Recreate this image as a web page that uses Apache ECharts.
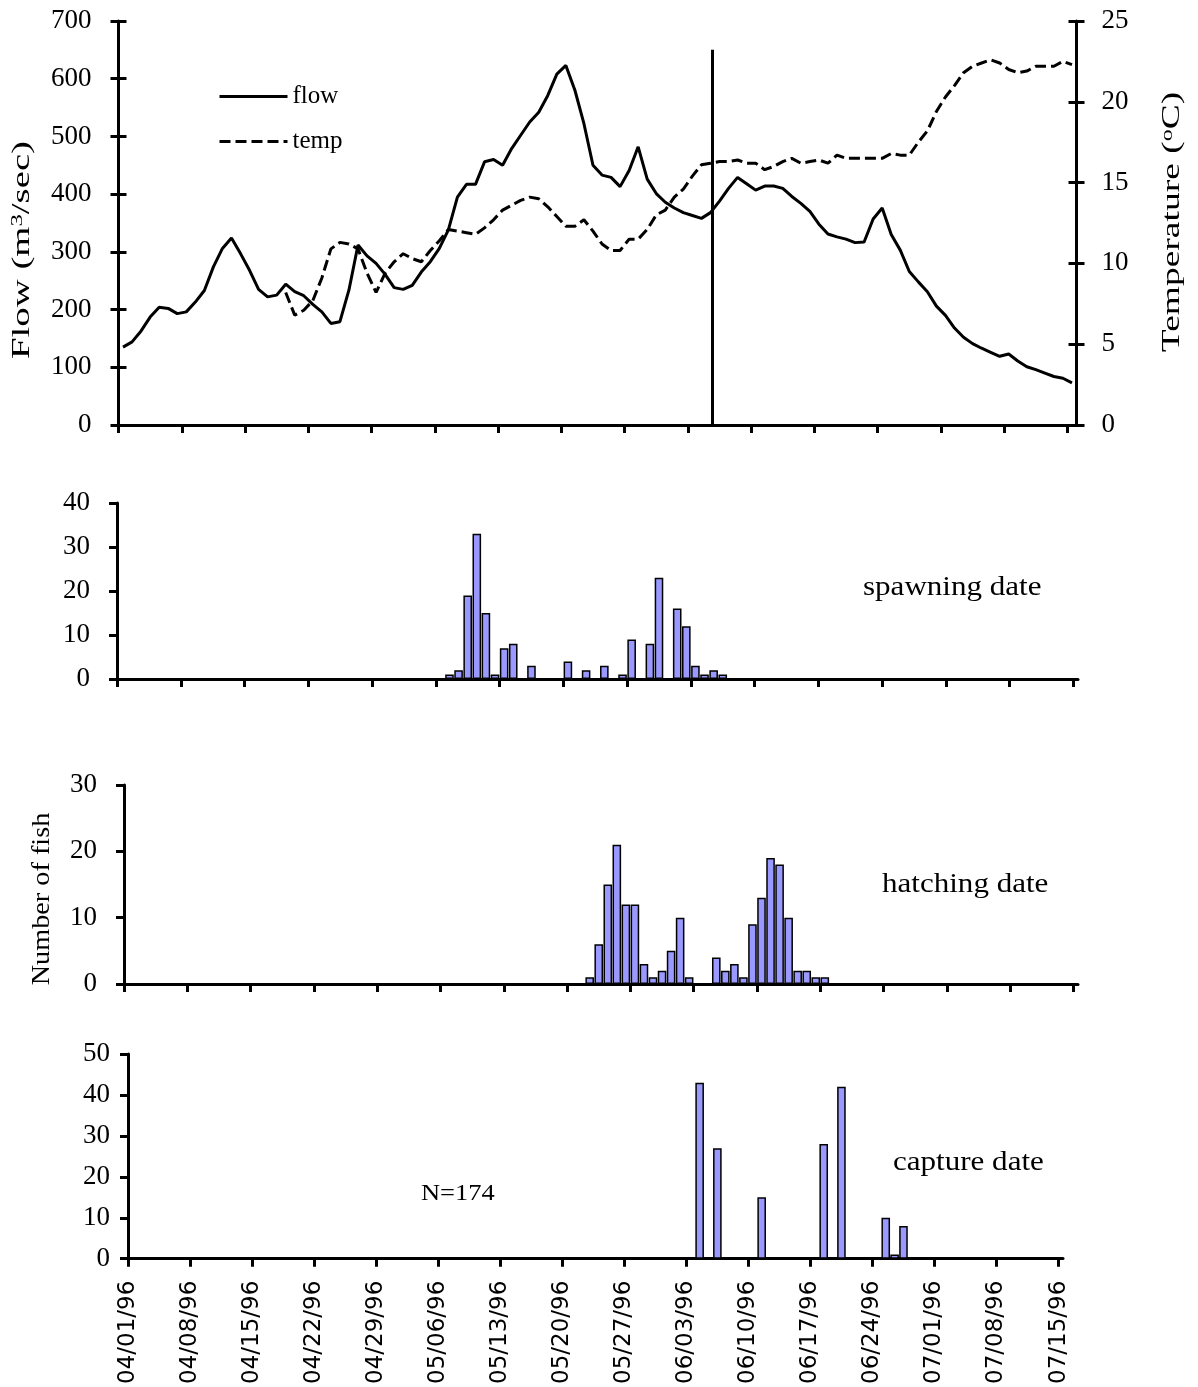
<!DOCTYPE html>
<html>
<head>
<meta charset="utf-8">
<title>Flow, temperature and fish dates 1996</title>
<script src="https://cdn.jsdelivr.net/npm/echarts@6/dist/echarts.min.js"></script>
<style>
  html, body { margin: 0; padding: 0; background: #fff; }
  #chart { width: 1198px; height: 1387px; }
</style>
</head>
<body>
<div id="chart"></div>
<script>
// x axis: days since 04/01/96, one tick per week
const weekLabels = ['04/01/96', '04/08/96', '04/15/96', '04/22/96', '04/29/96', '05/06/96', '05/13/96', '05/20/96',
  '05/27/96', '06/03/96', '06/10/96', '06/17/96', '06/24/96', '07/01/96', '07/08/96', '07/15/96']

// daily flow (m3/sec), from 04/01
const flow = [135, 144, 163, 187, 204, 202, 193, 196, 213, 233, 274, 306, 324, 297, 268, 235, 222, 225, 244, 231,
  224, 209, 196, 176, 179, 234, 312, 293, 280, 261, 238, 235, 242, 265, 283, 306, 338, 395, 417, 417,
  456, 460, 450, 479, 502, 525, 542, 571, 608, 623, 580, 522, 450, 433, 429, 413, 441, 482, 426, 401,
  386, 376, 368, 363, 358, 368, 388, 410, 429, 418, 407, 414, 414, 410, 396, 384, 370, 348, 331, 326,
  322, 316, 317, 357, 376, 330, 303, 266, 248, 231, 206, 190, 168, 152, 141, 133, 126, 119, 123, 111,
  101, 96, 90, 84, 81, 73]

// daily water temperature (oC), no record before 04/19
const temp = [null, null, null, null, null, null, null, null, null, null, null, null, null, null, null, null, null, null,
  8.2, 6.8, 7.1, 7.7, 9.1, 10.9, 11.3, 11.2, 10.9, 9.4, 8.2, 9.4, 10.1, 10.6, 10.3, 10.1, 10.8, 11.4, 12.1, 12.0,
  11.9, 11.8, 12.2, 12.7, 13.3, 13.6, 13.9, 14.1, 14.0, 13.5, 12.9, 12.3, 12.3, 12.7, 12.0, 11.2, 10.8, 10.8, 11.5, 11.5,
  12.1, 13.0, 13.3, 14.1, 14.6, 15.4, 16.1, 16.2, 16.3, 16.3, 16.4, 16.2, 16.2, 15.8, 16.0, 16.3, 16.5, 16.2, 16.3, 16.4,
  16.2, 16.7, 16.5, 16.5, 16.5, 16.5, 16.5, 16.8, 16.7, 16.7, 17.5, 18.2, 19.4, 20.3, 21.0, 21.8, 22.2, 22.4, 22.6, 22.4,
  22.0, 21.8, 21.9, 22.2, 22.2, 22.2, 22.5, 22.3]

// fish counts by day (days since 04/01)
const spawnDays = [36, 37, 38, 39, 40, 41, 42, 43, 45, 49, 51, 53, 55, 56, 58, 59, 61, 62, 63, 64, 65, 66]
const spawnCounts = [1, 2, 19, 33, 15, 1, 7, 8, 3, 4, 2, 3, 1, 9, 8, 23, 16, 12, 3, 1, 2, 1]

const hatchDays = [51, 52, 53, 54, 55, 56, 57, 58, 59, 60, 61, 62, 65, 66, 67, 68, 69, 70, 71, 72, 73, 74, 75, 76, 77]
const hatchCounts = [1, 6, 15, 21, 12, 12, 3, 1, 2, 5, 10, 1, 4, 2, 3, 1, 9, 13, 19, 18, 10, 2, 2, 1, 1]

const captureDays = [64, 66, 71, 78, 80, 85, 86, 87]
const captureCounts = [43, 27, 15, 28, 42, 10, 1, 8]

// vertical marker in the flow panel
const markerDay = 65.7
const markerFlow = 650

const sampleSize = 174

const serif = '"Liberation Serif", "Times New Roman", serif'
const weekTicks = weekLabels.map((_, i) => i * 7)
const black = '#000'

const chart = echarts.init(document.getElementById('chart'))

const xAxisFor = (gridIndex, max, showLabels) => ({
  type: 'value',
  gridIndex: gridIndex,
  min: 0,
  max: max,
  axisLine: { show: true, onZero: false, lineStyle: { color: black, width: 3 } },
  axisTick: { show: true, length: 8, customValues: weekTicks, lineStyle: { color: black, width: 3 } },
  axisLabel: showLabels ? {
    show: true,
    customValues: weekTicks,
    formatter: (v) => weekLabels[Math.round(v / 7)],
    rotate: 90,
    margin: 22,
    padding: [10, 0, 0, 0],
    color: black,
    fontFamily: '"DejaVu Sans", Verdana, sans-serif',
    fontSize: 23
  } : { show: false },
  splitLine: { show: false }
})

const yAxisFor = (gridIndex, max, interval, position, margin, inside) => ({
  type: 'value',
  gridIndex: gridIndex,
  position: position,
  min: 0,
  max: max,
  interval: interval,
  axisLine: { show: !inside, lineStyle: { color: black, width: 3 } },
  axisTick: { show: true, inside: !!inside, length: 8, lineStyle: { color: black, width: 3 } },
  axisLabel: inside ? { show: false } : {
    show: true, margin: margin, color: black, fontFamily: serif, fontSize: 27
  },
  splitLine: { show: false }
})

const barSeries = (name, axisIndex, days, counts) => ({
  name: name,
  type: 'bar',
  xAxisIndex: axisIndex,
  yAxisIndex: axisIndex + 3,
  barWidth: 8.6,
  itemStyle: { color: '#9999ff', borderColor: black, borderWidth: 1.5 },
  data: days.map((d, i) => [d + 0.5, counts[i]])
})

// rotated axis titles; stretched along the text to match the source lengths
const sideTitle = (x, y, text, stretch) => ({
  type: 'text', x: x, y: y, rotation: Math.PI / 2, scaleX: stretch,
  style: {
    text: text, align: 'center', verticalAlign: 'middle', fill: black,
    rich: {
      n: { fontFamily: serif, fontSize: 25 },
      s: { fontFamily: serif, fontSize: 16, verticalAlign: 'top', lineHeight: 25 }
    }
  }
})

const panelLabel = (x, y, text, size) => ({
  type: 'text', x: x, y: y, scaleX: 1.15,
  style: { text: text, verticalAlign: 'middle', fill: black, font: size + 'px ' + serif }
})

const option = {
  animation: false,
  backgroundColor: '#fff',
  textStyle: { fontFamily: serif },
  grid: [
    { left: 118.5, top: 21, width: 958, height: 404 },
    { left: 117, top: 503, width: 961, height: 176 },
    { left: 124, top: 785, width: 954, height: 199 },
    { left: 128, top: 1054, width: 935, height: 205 }
  ],
  xAxis: [
    xAxisFor(0, 106, false),
    xAxisFor(1, 105.5, false),
    xAxisFor(2, 105.5, false),
    xAxisFor(3, 105.5, true)
  ],
  yAxis: [
    yAxisFor(0, 700, 100, 'left', 27),
    yAxisFor(0, 25, 5, 'right', 25),
    yAxisFor(0, 700, 100, 'left', 0, true),
    yAxisFor(0, 25, 5, 'right', 0, true),
    yAxisFor(1, 40, 10, 'left', 27),
    yAxisFor(2, 30, 10, 'left', 27),
    yAxisFor(3, 50, 10, 'left', 18)
  ],
  legend: {
    data: ['flow', 'temp'],
    orient: 'vertical',
    left: 213,
    top: 79,
    itemWidth: 68,
    itemHeight: 20,
    itemGap: 20,
    itemStyle: { color: 'rgba(0,0,0,0)', borderWidth: 0, opacity: 0 },
    lineStyle: { width: 3 },
    textStyle: { color: black, fontFamily: serif, fontSize: 25 }
  },
  series: [
    {
      name: 'flow',
      type: 'line',
      xAxisIndex: 0,
      yAxisIndex: 0,
      symbol: 'none',
      lineStyle: { color: black, width: 3 },
      itemStyle: { color: black },
      data: flow.map((v, i) => [i + 0.5, v]),
      markLine: {
        silent: true,
        symbol: ['none', 'none'],
        label: { show: false },
        lineStyle: { color: black, width: 3, type: 'solid' },
        data: [[{ coord: [markerDay, 0] }, { coord: [markerDay, markerFlow] }]]
      }
    },
    {
      name: 'temp',
      type: 'line',
      xAxisIndex: 0,
      yAxisIndex: 1,
      symbol: 'none',
      connectNulls: false,
      lineStyle: { color: black, width: 3, type: [11, 5] },
      itemStyle: { color: black },
      data: temp.map((v, i) => [i + 0.5, v])
    },
    barSeries('spawning', 1, spawnDays, spawnCounts),
    barSeries('hatching', 2, hatchDays, hatchCounts),
    barSeries('capture', 3, captureDays, captureCounts)
  ],
  graphic: [
    sideTitle(22, 250, '{n|Flow (m}{s|3}{n|/sec)}', 1.55),
    sideTitle(1172, 222, '{n|Temperature (}{s|o}{n|C)}', 1.5),
    sideTitle(42, 899, '{n|Number of fish}', 1.13),
    panelLabel(863, 588, 'spawning date', 27),
    panelLabel(882, 885, 'hatching date', 27),
    panelLabel(893, 1163, 'capture date', 27),
    panelLabel(421, 1194, 'N=' + sampleSize, 23)
  ]
}

chart.setOption(option)

window.addEventListener('resize', () => {
  chart.resize()
})
</script>
</body>
</html>
